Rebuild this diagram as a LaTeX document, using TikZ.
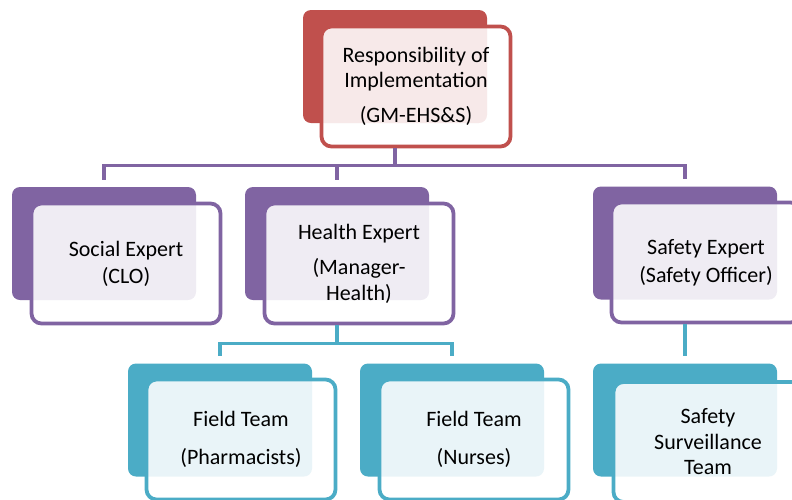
\documentclass[tikz,border=0pt]{standalone}
\usepackage{fontspec}
\setmainfont{Carlito}
\usetikzlibrary{calc}
\definecolor{cred}{HTML}{C0504D}
\definecolor{cpur}{HTML}{8064A2}
\definecolor{cteal}{HTML}{4BACC6}
\begin{document}
\begin{tikzpicture}[x=1pt,y=-1pt,
 backbox/.style={rounded corners=8pt, fill=#1, draw=none, minimum width=184pt, minimum height=113pt, inner sep=0pt},
 frontbox/.style={rounded corners=10pt, draw=#1, line width=3.8pt, fill=white, fill opacity=0.88, text opacity=1, minimum width=189pt, minimum height=120pt, align=center, font=\fontsize{22}{25.5}\selectfont, text=black, inner sep=0pt},
 link/.style={draw=#1, line width=3.8pt, shorten >=7pt}
]
\useasboundingbox (0,0) rectangle (792,499);
\clip (0,0) rectangle (792,499);
% back boxes
\node[backbox=cred] (topB) at (395,66.5) {};
\node[backbox=cpur] (socB) at (104,243.5) {};
\node[backbox=cpur] (heaB) at (337,243.5) {};
\node[backbox=cpur] (safB) at (685,243) {};
\node[backbox=cteal] (phaB) at (220,420) {};
\node[backbox=cteal] (nurB) at (452,420) {};
\node[backbox=cteal] (surB) at (685,420) {};
% front boxes
\node[frontbox=cred] (topF) at (416,86.5) {Responsibility of\\Implementation\\[9.5pt](GM-EHS\&S)};
\node[frontbox=cpur] (socF) at (126,263.5) {Social Expert\\[1.5pt](CLO)};
\node[frontbox=cpur] (heaF) at (359,263.5) {Health Expert\\[10pt](Manager-\\Health)};
\node[frontbox=cpur] (safF) at (706,262.5) {Safety Expert\\[2.5pt](Safety Officer)};
\node[frontbox=cteal] (phaF) at (241,439.5) {Field Team\\[12.5pt](Pharmacists)};
\node[frontbox=cteal] (nurF) at (474,439.5) {Field Team\\[12.5pt](Nurses)};
\node[frontbox=cteal] (surF) at (708,442) {Safety\\Surveillance\\Team};
% connectors
\coordinate (bus1) at ($(topF.south -| topB.center)+(0,17)$);
\coordinate (bus2) at ($(heaF.south -| heaB.center)+(0,18)$);
\draw[link=cpur, shorten >=0pt] (topF.south -| topB.center) -- (bus1);
\draw[link=cpur] (bus1) -| (socB.north);
\draw[link=cpur] (bus1) -| (heaB.north);
\draw[link=cpur] (bus1) -| (safB.north);
\draw[link=cteal, shorten >=0pt] (heaF.south -| heaB.center) -- (bus2);
\draw[link=cteal] (bus2) -| (phaB.north);
\draw[link=cteal] (bus2) -| (nurB.north);
\draw[link=cteal] (safF.south -| safB.center) -- (surB.north);
\end{tikzpicture}
\end{document}
